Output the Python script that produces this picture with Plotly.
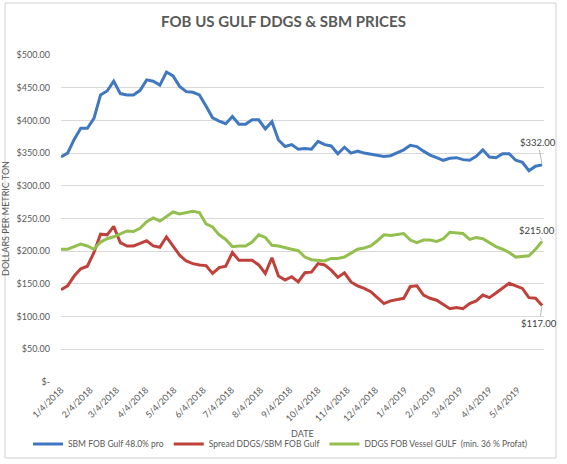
import pandas as pd
import plotly.graph_objects as go

# ---- data (weekly, starting 1/4/2018) ----
start_date = "2018-01-04"
n_weeks = 74

sbm = [344, 350, 371, 388, 388, 403, 439, 445, 460, 441,
       439, 439, 446, 462, 460, 454, 474, 468, 452, 444,
       443, 439, 422, 404, 399, 395, 406, 394, 394, 401,
       401, 387, 398, 370, 360, 363, 356, 357, 356, 368,
       363, 361, 349, 359, 350, 353, 350, 348, 347, 345,
       346, 350, 355, 362, 360, 353, 347, 343, 339, 342,
       343, 340, 339, 345, 355, 344, 343, 349, 349, 339,
       336, 323, 330, 332]

spread = [141, 147, 162, 173, 177, 198, 226, 225, 238, 213,
          208, 208, 212, 216, 208, 206, 222, 207, 194, 185,
          181, 179, 178, 166, 175, 177, 198, 186, 186, 186,
          179, 166, 190, 162, 156, 161, 153, 167, 168, 181,
          179, 171, 160, 167, 153, 147, 143, 138, 129, 120,
          124, 126, 128, 146, 147, 133, 128, 125, 118, 112,
          114, 112, 120, 124, 133, 129, 136, 144, 151, 147,
          143, 129, 128, 117]

ddgs = [203, 203, 207, 211, 208, 203, 214, 219, 222, 226,
        231, 230, 235, 245, 251, 246, 253, 260, 257, 259,
        261, 259, 242, 237, 225, 218, 207, 208, 208, 214,
        225, 221, 209, 208, 205, 203, 201, 191, 187, 186,
        185, 189, 189, 191, 197, 203, 205, 208, 216, 225,
        224, 226, 227, 217, 213, 217, 217, 215, 219, 229,
        228, 227, 218, 221, 219, 213, 207, 203, 198, 191,
        192, 193, 203, 215]

series_names = ["SBM FOB Gulf 48.0% pro",
                "Spread DDGS/SBM FOB Gulf",
                "DDGS FOB Vessel GULF  (min. 36 % Profat)"]
series_colors = ["#3F78C1", "#C0413B", "#93BF4E"]

tick_dates = ["2018-01-04", "2018-02-04", "2018-03-04", "2018-04-04", "2018-05-04",
              "2018-06-04", "2018-07-04", "2018-08-04", "2018-09-04", "2018-10-04",
              "2018-11-04", "2018-12-04", "2019-01-04", "2019-02-04", "2019-03-04",
              "2019-04-04", "2019-05-04"]
tick_labels = ["1/4/2018", "2/4/2018", "3/4/2018", "4/4/2018", "5/4/2018",
               "6/4/2018", "7/4/2018", "8/4/2018", "9/4/2018", "10/4/2018",
               "11/4/2018", "12/4/2018", "1/4/2019", "2/4/2019", "3/4/2019",
               "4/4/2019", "5/4/2019"]

y_ticks = [0, 50, 100, 150, 200, 250, 300, 350, 400, 450, 500]
y_labels = ["$-", "$50.00", "$100.00", "$150.00", "$200.00", "$250.00",
            "$300.00", "$350.00", "$400.00", "$450.00", "$500.00"]

x_title = "DATE"
y_title = "DOLLARS PER METRIC TON"
chart_title = "FOB US GULF DDGS & SBM PRICES"

dates = pd.date_range(start_date, periods=n_weeks, freq="7D")

FONT = "Lato, Liberation Sans, sans-serif"
GRAY = "#595959"
FS = 9

fig = go.Figure()
for vals, name, col in zip([sbm, spread, ddgs], series_names, series_colors):
    fig.add_trace(go.Scatter(x=dates, y=vals, mode="lines", name=name,
                             line=dict(color=col, width=3)))

# end-of-series data labels with leader lines
for vals, ax, ay in [(sbm, -4, -22), (ddgs, -5, -11), (spread, -3, 18)]:
    fig.add_annotation(x=dates[-1], y=vals[-1], text=f"${vals[-1]:.2f}",
                       showarrow=True, arrowhead=0, arrowwidth=0.8,
                       arrowcolor="#a6a6a6", ax=ax, ay=ay, standoff=1,
                       font=dict(family=FONT, size=FS + 0.5, color="#404040"))

L, R, T, B = 61, 23, 55, 82
W, H = 567, 464
pw, ph = W - L - R, H - T - B

def px(x):
    return (x - L) / pw

def py(y):
    return (H - B - y) / ph

# x-axis title, placed below the plot area
fig.add_annotation(xref="paper", yref="paper", x=0.5, y=0, yshift=-(433 - (H - B)),
                   text=x_title, showarrow=False, xanchor="center", yanchor="middle",
                   font=dict(family=FONT, size=FS, color=GRAY))

fig.add_shape(type="rect", xref="paper", yref="paper",
              x0=px(5), x1=px(556), y0=py(458), y1=py(3),
              line=dict(color="#d0d0d0", width=1), layer="below")

fig.update_layout(
    width=W, height=H,
    margin=dict(l=L, r=R, t=T, b=B, autoexpand=False),
    paper_bgcolor="white", plot_bgcolor="white",
    title=dict(text=f"<b>{chart_title}</b>", x=0.5, xanchor="center",
               y=1 - 22 / H, yanchor="middle",
               font=dict(family=FONT, size=15, color=GRAY)),
    font=dict(family=FONT, size=FS, color=GRAY),
    showlegend=True,
    legend=dict(orientation="h", x=px(28), xanchor="left", y=py(444), yanchor="middle",
                font=dict(family=FONT, size=8.5, color=GRAY), traceorder="normal",
                itemwidth=30, bgcolor="rgba(0,0,0,0)"),
    xaxis=dict(type="date", range=["2018-01-04", "2019-06-01"],
               tickmode="array", tickvals=tick_dates, ticktext=tick_labels,
               tickangle=-45, showgrid=False, zeroline=False, showline=False,
               ticks="", automargin=False,
               tickfont=dict(family=FONT, size=FS, color=GRAY)),
    yaxis=dict(range=[0, 500], tickmode="array", tickvals=y_ticks, ticktext=y_labels,
               showgrid=True, gridcolor="#d9d9d9", gridwidth=1, zeroline=False,
               showline=False, ticks="", ticklabelstandoff=10, automargin=False,
               tickfont=dict(family=FONT, size=FS, color=GRAY),
               title=dict(text=y_title,
                          font=dict(family=FONT, size=FS, color=GRAY), standoff=10)),
)

fig.write_html("out.html", config={"displayModeBar": False},
               post_script="document.body.style.margin='0';document.body.style.padding='0';")
